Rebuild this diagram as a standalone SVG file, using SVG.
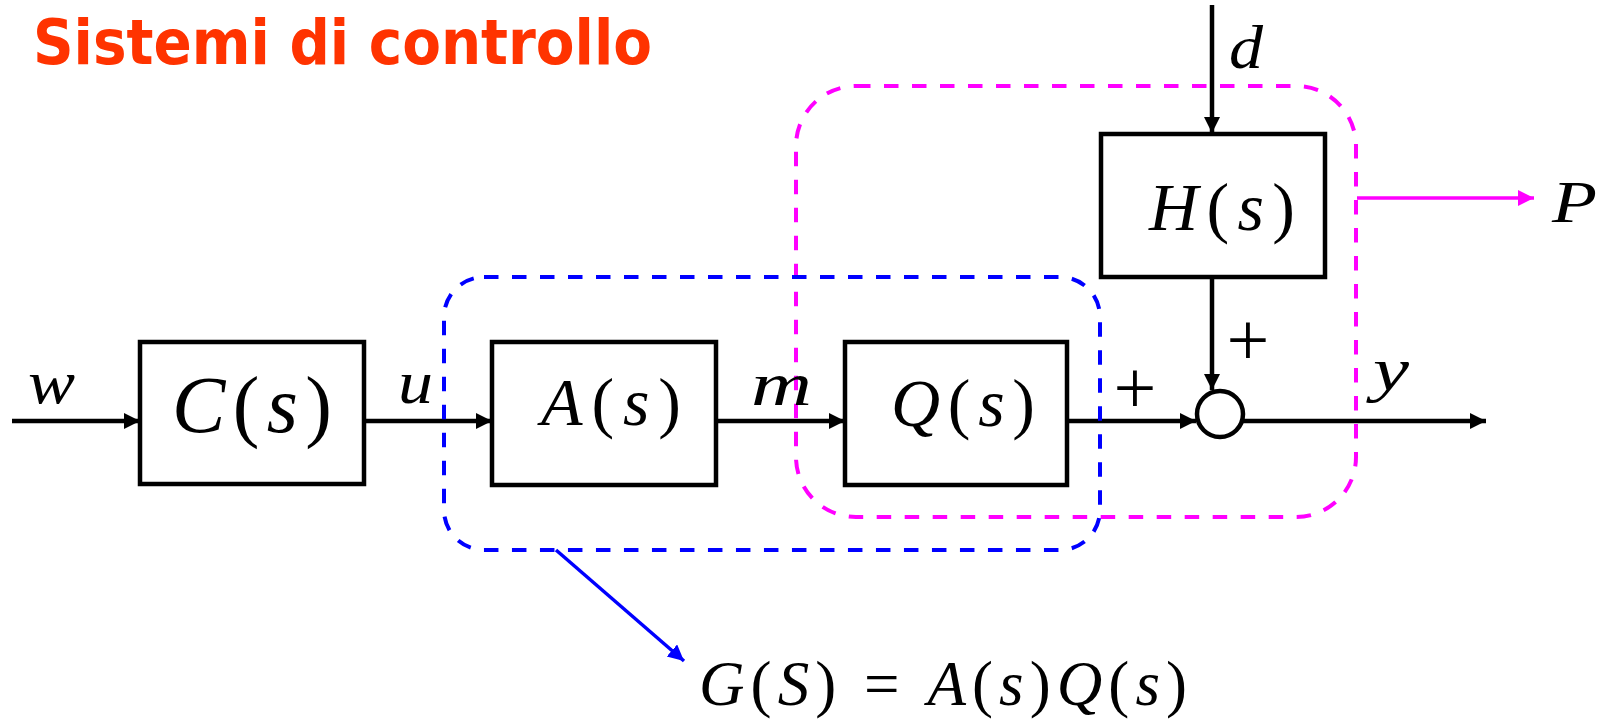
<svg xmlns="http://www.w3.org/2000/svg" width="1604" height="722" viewBox="0 0 1604 722">
<style>
.box{fill:#fff;stroke:#000;stroke-width:4.5}
.wire{fill:none;stroke:#000;stroke-width:4.5}
.dashb{fill:none;stroke:#0000FF;stroke-width:4;stroke-dasharray:14.5 13.5}
.dashm{fill:none;stroke:#FF00FF;stroke-width:4;stroke-dasharray:14.5 13.5}
</style>
<defs>
<marker id="ak" markerUnits="userSpaceOnUse" markerWidth="18" markerHeight="18" refX="16" refY="8" orient="auto"><path d="M0,0 L16,8 L0,16 z" fill="#000"/></marker>
<marker id="am" markerUnits="userSpaceOnUse" markerWidth="18" markerHeight="18" refX="16" refY="8" orient="auto"><path d="M0,0 L16,8 L0,16 z" fill="#FF00FF"/></marker>
<marker id="ab" markerUnits="userSpaceOnUse" markerWidth="18" markerHeight="18" refX="16" refY="8" orient="auto"><path d="M0,0 L16,8 L0,16 z" fill="#0000FF"/></marker>
</defs>
<rect width="1604" height="722" fill="#fff"/>
<text id="title" x="33" y="64" font-family="DejaVu Sans, Verdana, sans-serif" font-weight="bold" fill="#FF3300" font-size="63" textLength="619" lengthAdjust="spacingAndGlyphs">Sistemi di controllo</text>

<g id="connectors">
<line class="wire" x1="12" y1="421" x2="140" y2="421" marker-end="url(#ak)"/>
<line class="wire" x1="364" y1="421" x2="492" y2="421" marker-end="url(#ak)"/>
<line class="wire" x1="716" y1="421" x2="845" y2="421" marker-end="url(#ak)"/>
<line class="wire" x1="1067" y1="421" x2="1196" y2="421" marker-end="url(#ak)"/>
<line class="wire" x1="1243" y1="421" x2="1486" y2="421" marker-end="url(#ak)"/>
<line class="wire" x1="1212" y1="5" x2="1212" y2="133" marker-end="url(#ak)"/>
<line class="wire" x1="1212" y1="277" x2="1212" y2="390" marker-end="url(#ak)"/>
<line x1="1357" y1="198" x2="1534" y2="198" stroke="#FF00FF" stroke-width="3.5" marker-end="url(#am)"/>
<line x1="556" y1="550" x2="684" y2="661" stroke="#0000FF" stroke-width="3.5" marker-end="url(#ab)"/>
</g>

<g id="C">
<rect class="box" x="140" y="342" width="224" height="142"/>
<text x="172" y="432" font-family="Liberation Serif, Times New Roman, serif" font-size="80" textLength="160" lengthAdjust="spacing"><tspan font-style="italic">C</tspan>(<tspan font-style="italic">s</tspan>)</text>
</g>
<g id="A">
<rect class="box" x="492" y="342" width="224" height="143"/>
<text x="541" y="425" font-family="Liberation Serif, Times New Roman, serif" font-size="68" textLength="140" lengthAdjust="spacing"><tspan font-style="italic">A</tspan>(<tspan font-style="italic">s</tspan>)</text>
</g>
<g id="Q">
<rect class="box" x="845" y="342" width="222" height="143"/>
<text x="891" y="426" font-family="Liberation Serif, Times New Roman, serif" font-size="68" textLength="144" lengthAdjust="spacing"><tspan font-style="italic">Q</tspan>(<tspan font-style="italic">s</tspan>)</text>
</g>
<g id="H">
<rect class="box" x="1101" y="134" width="224" height="143"/>
<text x="1149" y="230" font-family="Liberation Serif, Times New Roman, serif" font-size="68" textLength="146" lengthAdjust="spacing"><tspan font-style="italic">H</tspan>(<tspan font-style="italic">s</tspan>)</text>
</g>
<g id="sum">
<circle cx="1220" cy="414" r="23" fill="#fff" stroke="#000" stroke-width="4.5"/>
<text x="1248" y="365" font-family="Liberation Serif, serif" font-size="76" text-anchor="middle">+</text>
<text x="1135" y="413" font-family="Liberation Serif, serif" font-size="76" text-anchor="middle">+</text>
</g>

<g id="groups">
<rect class="dashm" x="796" y="86" width="560" height="431" rx="60" ry="60"/>
<rect class="dashb" x="444" y="277" width="656" height="273" rx="40" ry="40"/>
</g>

<g id="labels" font-family="Liberation Serif, Times New Roman, serif" font-style="italic">
<text x="28" y="403" font-size="62" textLength="47" lengthAdjust="spacingAndGlyphs">w</text>
<text x="398" y="403" font-size="62" textLength="35" lengthAdjust="spacingAndGlyphs">u</text>
<text x="751" y="405" font-size="62" textLength="61" lengthAdjust="spacingAndGlyphs">m</text>
<text x="1229" y="68" font-size="62" textLength="34" lengthAdjust="spacingAndGlyphs">d</text>
<text x="1373" y="390" font-size="62" textLength="36" lengthAdjust="spacingAndGlyphs">y</text>
<text x="1552" y="222" font-size="60" textLength="45" lengthAdjust="spacingAndGlyphs">P</text>
<text id="formula" x="699" y="705" font-style="normal" font-size="63" textLength="488" lengthAdjust="spacing"><tspan font-style="italic">G</tspan>(<tspan font-style="italic">S</tspan>) = <tspan font-style="italic">A</tspan>(<tspan font-style="italic">s</tspan>)<tspan font-style="italic">Q</tspan>(<tspan font-style="italic">s</tspan>)</text>
</g>
</svg>
